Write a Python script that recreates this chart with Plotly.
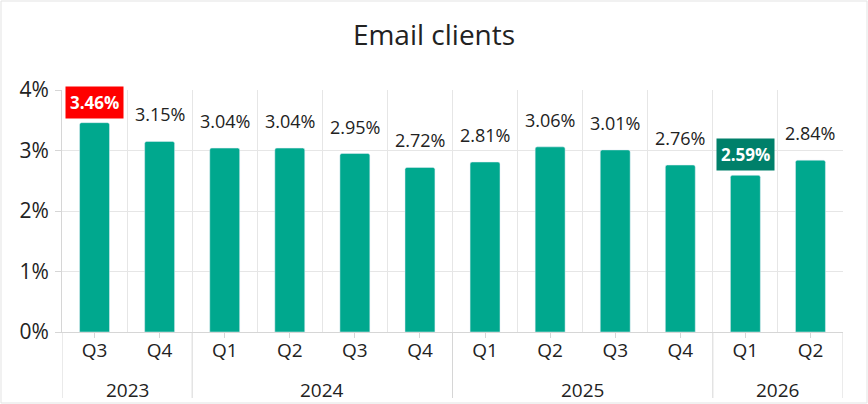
import plotly.graph_objects as go

# data
years = ["2023", "2023", "2024", "2024", "2024", "2024", "2025", "2025", "2025", "2025", "2026", "2026"]
quarters = ["Q3", "Q4", "Q1", "Q2", "Q3", "Q4", "Q1", "Q2", "Q3", "Q4", "Q1", "Q2"]
share = [3.46, 3.15, 3.04, 3.04, 2.95, 2.72, 2.81, 3.06, 3.01, 2.76, 2.59, 2.84]
y_ticks = [0, 1, 2, 3, 4]

FONT = "Open Sans"
BAR = "#00a88e"
GRID = "#e6e6e6"
LINE = "#d6d6d6"
TXT = "#222222"

W, H = 868, 404
L, R, T, B = 62, 25, 90, 72
pw, ph = W - L - R, H - T - B

pos = list(range(len(share)))
i_max = share.index(max(share))
i_min = share.index(min(share))

fig = go.Figure()
fig.add_trace(go.Bar(
    x=pos, y=share,
    marker=dict(color=BAR, cornerradius=2),
    width=0.46, hoverinfo="skip",
))

# value labels above the bars
for i, v in zip(pos, share):
    lab = f"{v:.2f}%"
    if i in (i_max, i_min):
        fig.add_annotation(
            x=i, y=v, text=f"<b>{lab}</b>",
            yanchor="bottom", yshift=4, showarrow=False,
            font=dict(family=FONT, size=17, color="white"),
            bgcolor="#ff0000" if i == i_max else "#00806a", borderpad=4,
        )
    else:
        fig.add_annotation(
            x=i, y=v, text=lab,
            yanchor="bottom", yshift=13, showarrow=False,
            font=dict(family=FONT, size=18, color=TXT),
        )

# year groups: label + dividers under the axis
bottom = -(398 - (H - B)) / ph
groups = []
for i, yr in enumerate(years):
    if not groups or groups[-1][0] != yr:
        groups.append([yr, i, i])
    else:
        groups[-1][2] = i
for yr, a, b in groups:
    fig.add_annotation(
        x=(a + b) / 2, y=-(390 - (H - B)) / ph, yref="paper", text=yr,
        showarrow=False, yanchor="middle",
        font=dict(family=FONT, size=19, color=TXT),
    )
edges = sorted({a - 0.5 for _, a, _ in groups} | {groups[-1][2] + 0.5})
for e in edges:
    fig.add_shape(type="line", x0=e, x1=e, xref="x", y0=bottom, y1=0, yref="paper",
                  line=dict(color=LINE, width=1))

# light frame around the whole picture
fig.add_shape(type="rect", xref="paper", yref="paper",
              x0=-(L - 1) / pw, x1=1 + (R - 1) / pw, y0=-(B - 1) / ph, y1=1 + (T - 1) / ph,
              line=dict(color="#e3e3e3", width=1))

fig.update_layout(
    width=W, height=H,
    margin=dict(l=L, r=R, t=T, b=B),
    paper_bgcolor="white", plot_bgcolor="white",
    title=dict(text="Email clients", x=0.5, y=1 - 35 / H, xanchor="center", yanchor="middle",
               font=dict(family=FONT, size=28, color=TXT)),
    font=dict(family=FONT, size=17, color=TXT),
    showlegend=False,
)
fig.update_xaxes(
    range=[-0.5, len(share) - 0.5], tickvals=pos, ticktext=quarters,
    showgrid=False, zeroline=False,
    showline=True, linecolor=LINE, ticks="outside", ticklen=5, tickcolor=LINE,
    minor=dict(tick0=-0.5, dtick=1, showgrid=True, gridcolor=GRID, ticks=""),
    tickfont=dict(family=FONT, size=19, color=TXT), ticklabelstandoff=-4,
)
fig.update_yaxes(
    range=[0, 4], tickvals=y_ticks, ticktext=[f"{t}%" for t in y_ticks],
    showgrid=True, gridcolor=GRID, zeroline=False,
    showline=True, linecolor=LINE, ticks="outside", ticklen=6, tickcolor=LINE,
    tickfont=dict(family=FONT, size=21, color=TXT), ticklabelstandoff=2,
)

fig.write_html("out.html", config={"displayModeBar": False},
               post_script="document.body.style.margin='0';")
